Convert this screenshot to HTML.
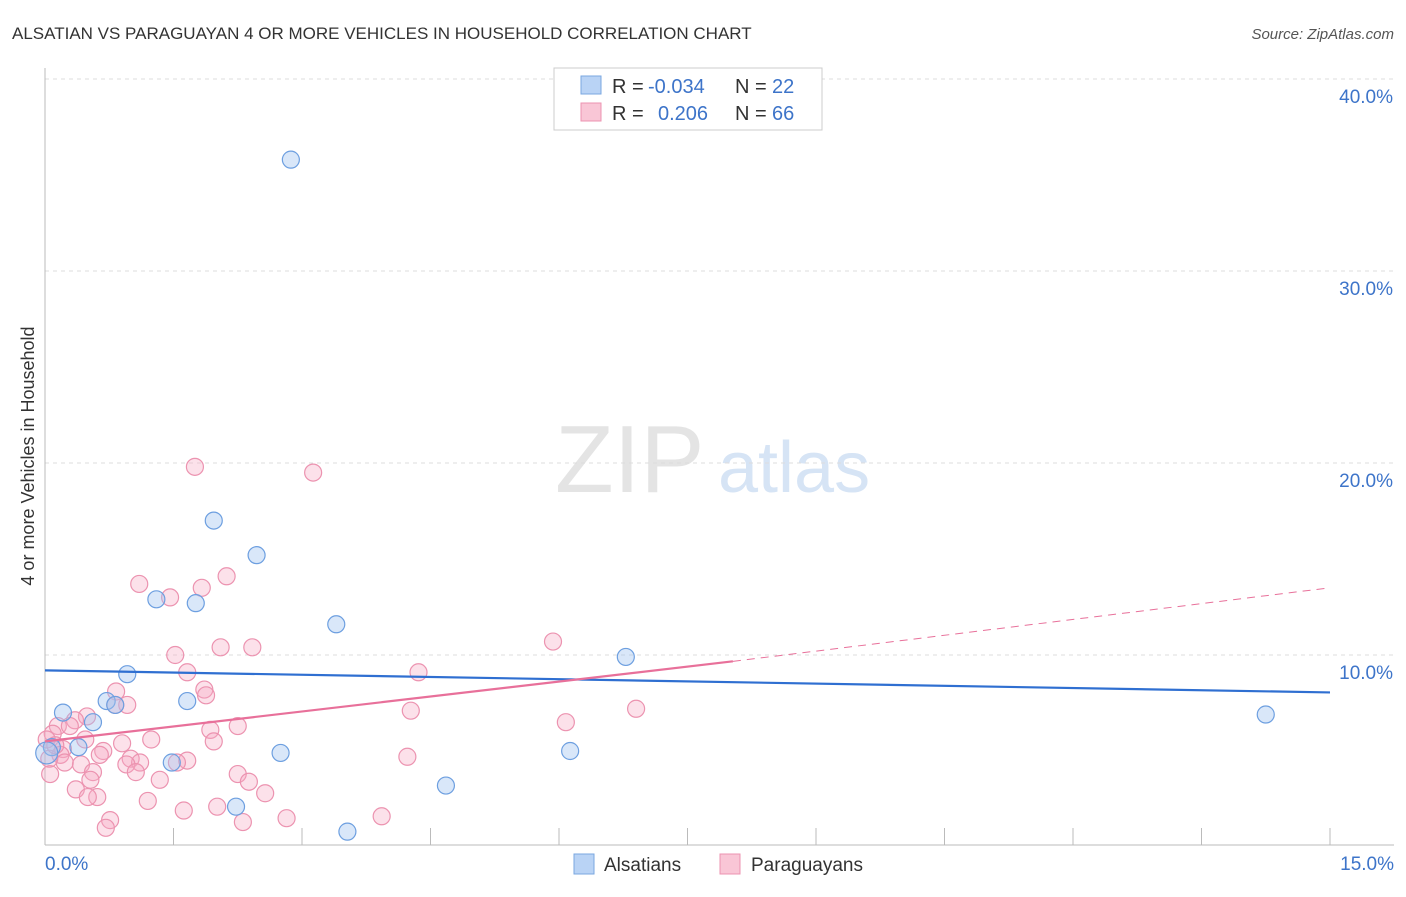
<!DOCTYPE html>
<html><head><meta charset="utf-8"><style>
body{margin:0;background:#fff;font-family:"Liberation Sans",sans-serif;}
svg text{font-family:"Liberation Sans",sans-serif;}
</style></head><body>
<svg width="1406" height="892">
<text x="12" y="39" font-size="17" fill="#333">ALSATIAN VS PARAGUAYAN 4 OR MORE VEHICLES IN HOUSEHOLD CORRELATION CHART</text>
<text x="1394" y="39" font-size="15" fill="#555" font-style="italic" text-anchor="end">Source: ZipAtlas.com</text>
<text x="555" y="492" font-size="96" fill="#e4e4e4" font-family="Liberation Serif">ZIP</text>
<text x="718" y="492" font-size="72" fill="#d6e4f5">atlas</text>
<g id="grid"></g>
<g id="axes"></g>
<text transform="translate(34,456) rotate(-90)" font-size="18" fill="#333" text-anchor="middle">4 or more Vehicles in Household</text>
<g id="pts"></g>
<g id="lines"></g>
<g>
<rect x="554" y="68" width="268" height="62" fill="#fff" stroke="#ccc"/>
<rect x="581" y="76" width="20" height="18" fill="#b9d3f5" stroke="#7aa7e0"/>
<rect x="581" y="103" width="20" height="18" fill="#f9c6d6" stroke="#ec93b0"/>
<text x="612" y="93" font-size="20" fill="#333">R =</text>
<text x="648" y="93" font-size="20" fill="#3d74c9">-0.034</text>
<text x="735" y="93" font-size="20" fill="#333">N =</text>
<text x="772" y="93" font-size="20" fill="#3d74c9">22</text>
<text x="612" y="120" font-size="20" fill="#333">R =</text>
<text x="658" y="120" font-size="20" fill="#3d74c9">0.206</text>
<text x="735" y="120" font-size="20" fill="#333">N =</text>
<text x="772" y="120" font-size="20" fill="#3d74c9">66</text>
</g>
<g>
<rect x="574" y="854" width="20" height="20" fill="#b9d3f5" stroke="#7aa7e0"/>
<text x="604" y="871" font-size="19" fill="#333">Alsatians</text>
<rect x="720" y="854" width="20" height="20" fill="#f9c6d6" stroke="#ec93b0"/>
<text x="751" y="871" font-size="19" fill="#333">Paraguayans</text>
</g>
</svg>
<script>
const yTicks=[10,20,30,40];
const yTickLabels=["10.0%","20.0%","30.0%","40.0%"];
const xTickLabels=["0.0%","15.0%"];
const blueX=[2.87,1.97,2.47,1.30,1.76,3.40,0.96,6.78,0.72,1.66,0.82,0.21,0.56,0.39,0.08,1.48,2.75,6.13,4.68,2.23,3.53,14.25,0.02];
const blueY=[35.8,17.0,15.2,12.9,12.7,11.6,9.0,9.9,7.6,7.6,7.4,7.0,6.5,5.2,5.2,4.4,4.9,5.0,3.2,2.1,0.8,6.9,4.9];
const pinkX=[1.75,3.13,1.10,1.46,2.12,1.83,2.42,2.05,5.93,1.52,1.66,4.36,1.86,0.83,1.88,0.96,0.82,4.27,6.90,0.49,0.35,0.15,0.29,2.25,1.93,6.08,0.09,1.24,0.90,1.97,0.21,0.02,0.18,0.68,4.23,1.00,1.11,1.66,1.54,0.95,0.42,0.56,1.06,2.25,2.38,1.34,0.53,0.36,2.57,0.61,0.50,1.20,2.01,1.62,0.76,3.93,2.82,2.31,0.71,0.06,0.23,0.05,0.12,0.64,0.47];
const pinkY=[19.8,19.5,13.7,13.0,14.1,13.5,10.4,10.4,10.7,10.0,9.1,9.1,8.2,8.1,7.9,7.4,7.4,7.1,7.2,6.8,6.6,6.3,6.3,6.3,6.1,6.5,5.9,5.6,5.4,5.5,5.1,5.6,4.8,5.0,4.7,4.6,4.4,4.5,4.4,4.3,4.3,3.9,3.9,3.8,3.4,3.5,3.5,3.0,2.8,2.6,2.6,2.4,2.1,1.9,1.4,1.6,1.5,1.3,1.0,3.8,4.4,4.6,5.3,4.8,5.6];
const X0=45,X1=1330,Y0=847,PY=19.2;
const sx=v=>X0+v/15*(X1-X0), sy=v=>Y0-v*PY;
const NS="http://www.w3.org/2000/svg";
function mk(t,a,p){const e=document.createElementNS(NS,t);for(const k in a)e.setAttribute(k,a[k]);document.getElementById(p).appendChild(e);return e;}
yTicks.forEach((t,i)=>{
 const l=mk('line',{x1:X0,x2:1394,y1:sy(t),y2:sy(t),stroke:'#ddd','stroke-dasharray':'4,4'},'grid');
 
 
 const tx=mk('text',{x:1393,y:sy(t)+24,'font-size':19,fill:'#3d74c9','text-anchor':'end'},'grid');
 tx.textContent=yTickLabels[i];
 
 
});
const ax=mk('line',{x1:X0,x2:X0,y1:68,y2:845,stroke:'#bbb'},'axes');


const bx=mk('line',{x1:X0,x2:1394,y1:845,y2:845,stroke:'#bbb'},'axes');


for(let i=0;i<=10;i++){const x=sx(i*1.5);const t=mk('line',{x1:x,x2:x,y1:828,y2:845,stroke:'#bbb'},'axes');
 
 }
[[0,'start',45],[15,'end',1394]].forEach((d,i)=>{const t=mk('text',{x:d[2],y:870,'font-size':19,fill:'#3d74c9','text-anchor':d[1]},'axes');t.textContent=xTickLabels[i];
 
 });
pinkX.forEach((v,i)=>{const c=mk('circle',{cx:sx(v),cy:sy(pinkY[i]),r:8.5,fill:'rgba(246,170,196,0.35)',stroke:'#ec93b0','stroke-width':1.2},'pts');
 
 });
blueX.forEach((v,i)=>{const c=mk('circle',{cx:sx(v),cy:sy(blueY[i]),r:i==22?11:8.5,fill:'rgba(160,195,240,0.4)',stroke:'#6d9fe0','stroke-width':1.2},'pts');
 
 });
const bl=mk('line',{x1:sx(0),y1:sy(9.2),x2:sx(15),y2:sy(8.05),stroke:'#2f6fd1','stroke-width':2.2},'lines');


const pl=mk('line',{x1:sx(0),y1:sy(5.5),x2:sx(8.03),y2:sy(9.67),stroke:'#e8709a','stroke-width':2.2},'lines');


const pd=mk('line',{x1:sx(8.03),y1:sy(9.67),x2:sx(15),y2:sy(13.5),stroke:'#e8709a','stroke-width':1,'stroke-dasharray':'8,6'},'lines');


</script>
</body></html>
